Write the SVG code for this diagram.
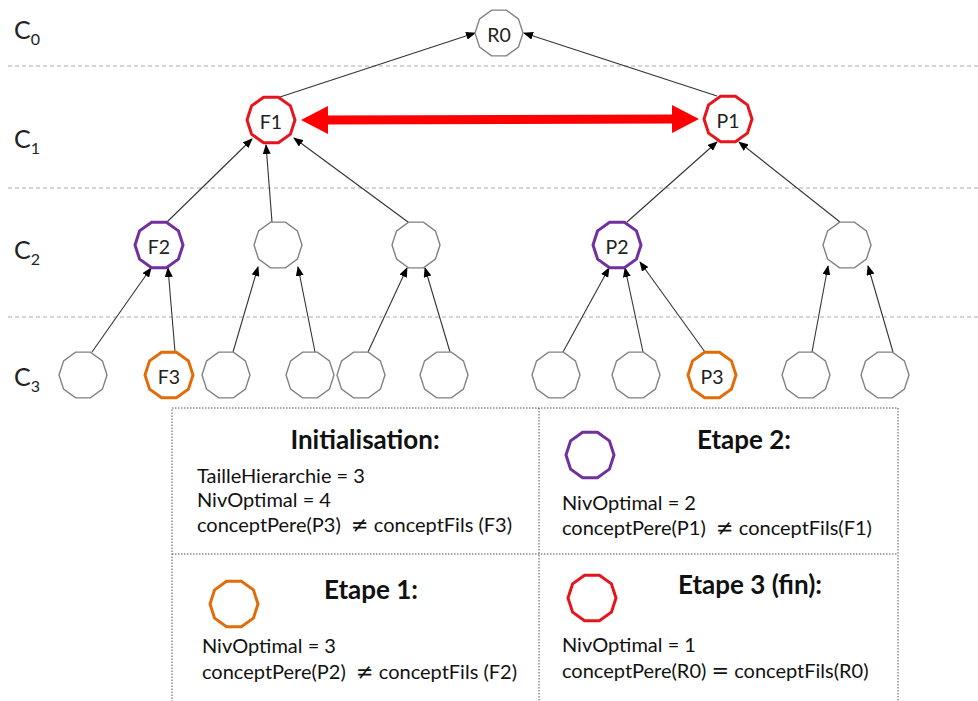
<svg xmlns="http://www.w3.org/2000/svg" xmlns:xlink="http://www.w3.org/1999/xlink" width="978" height="701" viewBox="0 0 978 701">
<style>
.lvl{stroke:#c8c8c8;stroke-width:1.3;stroke-dasharray:4 3;fill:none}
.node{fill:#fff;stroke:#808080;stroke-width:1.4}
.red{fill:#fff;stroke:#e8141b;stroke-width:3}
.purple{fill:#fff;stroke:#7030a0;stroke-width:3}
.orange{fill:#fff;stroke:#e36c0a;stroke-width:3}
.lbl{font-family:Lato,"Liberation Sans",sans-serif;font-size:19.5px;fill:#222;text-anchor:middle;dominant-baseline:central}
.edge{stroke:#333;stroke-width:1.1;fill:none;marker-end:url(#ah)}
.big{stroke:#ff0000;stroke-width:9;fill:none;marker-start:url(#rh);marker-end:url(#rh)}
.lev{font-family:Lato,"Liberation Sans",sans-serif;font-size:25px;fill:#222}
.sub{font-size:16px}
.box{fill:none;stroke:#555;stroke-width:1;stroke-dasharray:1.5 1.5}
.ttl{font-family:Lato,"Liberation Sans",sans-serif;font-size:26px;font-weight:bold;fill:#111;text-anchor:middle}
.txt{font-family:Lato,"Liberation Sans",sans-serif;font-size:20px;fill:#111;white-space:pre}
.op{font-family:"DejaVu Sans",sans-serif;font-size:21px}
</style>
<defs>
<polygon id="dec" points="24,0 19.42,14.11 7.42,22.83 -7.42,22.83 -19.42,14.11 -24,0 -19.42,-14.11 -7.42,-22.83 7.42,-22.83 19.42,-14.11"/>
<marker id="ah" markerUnits="userSpaceOnUse" markerWidth="10" markerHeight="8" refX="9" refY="4" orient="auto"><path d="M0,0 L10,4 L0,8 Z" fill="#000"/></marker>
<marker id="rh" markerUnits="userSpaceOnUse" markerWidth="27" markerHeight="28" refX="4" refY="14" orient="auto-start-reverse"><path d="M0,0 L27,14 L0,28 Z" fill="#ff0000"/></marker>
</defs>

<g id="levels">
<line class="lvl" x1="8" y1="66" x2="978" y2="66"/>
<line class="lvl" x1="8" y1="188" x2="978" y2="188"/>
<line class="lvl" x1="8" y1="317" x2="978" y2="317"/>
<text class="lev" x="14" y="39">C<tspan class="sub" dy="6">0</tspan></text>
<text class="lev" x="14" y="148">C<tspan class="sub" dy="6">1</tspan></text>
<text class="lev" x="14" y="259">C<tspan class="sub" dy="6">2</tspan></text>
<text class="lev" x="14" y="386">C<tspan class="sub" dy="6">3</tspan></text>
</g>

<g id="connectors">
<line class="edge" x1="280" y1="97" x2="475" y2="33"/>
<line class="edge" x1="717" y1="96" x2="524" y2="33"/>
<line class="big" x1="324" y1="120" x2="676" y2="119"/>
<line class="edge" x1="167" y1="222" x2="252" y2="139"/>
<line class="edge" x1="272" y1="222" x2="266" y2="145"/>
<line class="edge" x1="408" y1="222" x2="294" y2="138"/>
<line class="edge" x1="627" y1="222" x2="717" y2="142"/>
<line class="edge" x1="840" y1="222" x2="739" y2="142"/>
<line class="edge" x1="92" y1="352" x2="151" y2="268"/>
<line class="edge" x1="175" y1="352" x2="168" y2="268"/>
<line class="edge" x1="233" y1="352" x2="258" y2="267"/>
<line class="edge" x1="315" y1="352" x2="298" y2="267"/>
<line class="edge" x1="368" y1="352" x2="407" y2="268"/>
<line class="edge" x1="450" y1="352" x2="425" y2="268"/>
<line class="edge" x1="563" y1="352" x2="609" y2="268"/>
<line class="edge" x1="643" y1="352" x2="625" y2="268"/>
<line class="edge" x1="705" y1="352" x2="640" y2="262"/>
<line class="edge" x1="812" y1="352" x2="828" y2="266"/>
<line class="edge" x1="893" y1="352" x2="868" y2="266"/>
</g>

<g id="R0"><use href="#dec" x="499" y="33" class="node"/><text class="lbl" x="499" y="34">R0</text></g>
<g id="F1"><use href="#dec" x="271" y="120" class="red"/><text class="lbl" x="271" y="121">F1</text></g>
<g id="P1"><use href="#dec" x="728" y="119" class="red"/><text class="lbl" x="728" y="120">P1</text></g>

<g id="F2"><use href="#dec" x="159" y="245" class="purple"/><text class="lbl" x="159" y="246">F2</text></g>
<g id="n2b"><use href="#dec" x="278" y="245" class="node"/></g>
<g id="n2c"><use href="#dec" x="416" y="245" class="node"/></g>
<g id="P2"><use href="#dec" x="617" y="245" class="purple"/><text class="lbl" x="617" y="246">P2</text></g>
<g id="n2e"><use href="#dec" x="847" y="245" class="node"/></g>

<g id="n3a"><use href="#dec" x="83" y="375" class="node"/></g>
<g id="F3"><use href="#dec" x="169" y="375" class="orange"/><text class="lbl" x="169" y="376">F3</text></g>
<g id="n3c"><use href="#dec" x="226" y="375" class="node"/></g>
<g id="n3d"><use href="#dec" x="310" y="375" class="node"/></g>
<g id="n3e"><use href="#dec" x="361" y="375" class="node"/></g>
<g id="n3f"><use href="#dec" x="444" y="375" class="node"/></g>
<g id="n3g"><use href="#dec" x="556" y="375" class="node"/></g>
<g id="n3h"><use href="#dec" x="636" y="375" class="node"/></g>
<g id="P3"><use href="#dec" x="712" y="375" class="orange"/><text class="lbl" x="712" y="376">P3</text></g>
<g id="n3j"><use href="#dec" x="806" y="375" class="node"/></g>
<g id="n3k"><use href="#dec" x="885" y="375" class="node"/></g>

<g id="table">
<rect class="box" x="172" y="408" width="726" height="300"/>
<line class="box" x1="539" y1="408" x2="539" y2="701"/>
<line class="box" x1="172" y1="554" x2="898" y2="554"/>
</g>

<g id="init">
<text class="ttl" x="365" y="449">Initialisation:</text>
<text class="txt" x="197" y="483">TailleHierarchie = 3</text>
<text class="txt" x="197" y="507">NivOptimal = 4</text>
<text class="txt" x="197" y="532">conceptPere(P3)  <tspan class="op">≠</tspan> conceptFils (F3)</text>
</g>
<g id="etape2">
<use href="#dec" x="590" y="455" class="purple"/>
<text class="ttl" x="744" y="449">Etape 2:</text>
<text class="txt" x="562" y="510">NivOptimal = 2</text>
<text class="txt" x="562" y="535">conceptPere(P1)  <tspan class="op">≠</tspan> conceptFils(F1)</text>
</g>
<g id="etape1">
<use href="#dec" x="234" y="604" class="orange"/>
<text class="ttl" x="371" y="599">Etape 1:</text>
<text class="txt" x="202" y="653">NivOptimal = 3</text>
<text class="txt" x="202" y="679">conceptPere(P2)  <tspan class="op">≠</tspan> conceptFils (F2)</text>
</g>
<g id="etape3">
<use href="#dec" x="592" y="598" class="red"/>
<text class="ttl" x="750" y="594">Etape 3 (fin):</text>
<text class="txt" x="562" y="652">NivOptimal = 1</text>
<text class="txt" x="562" y="678">conceptPere(R0) <tspan class="op">=</tspan> conceptFils(R0)</text>
</g>
</svg>
